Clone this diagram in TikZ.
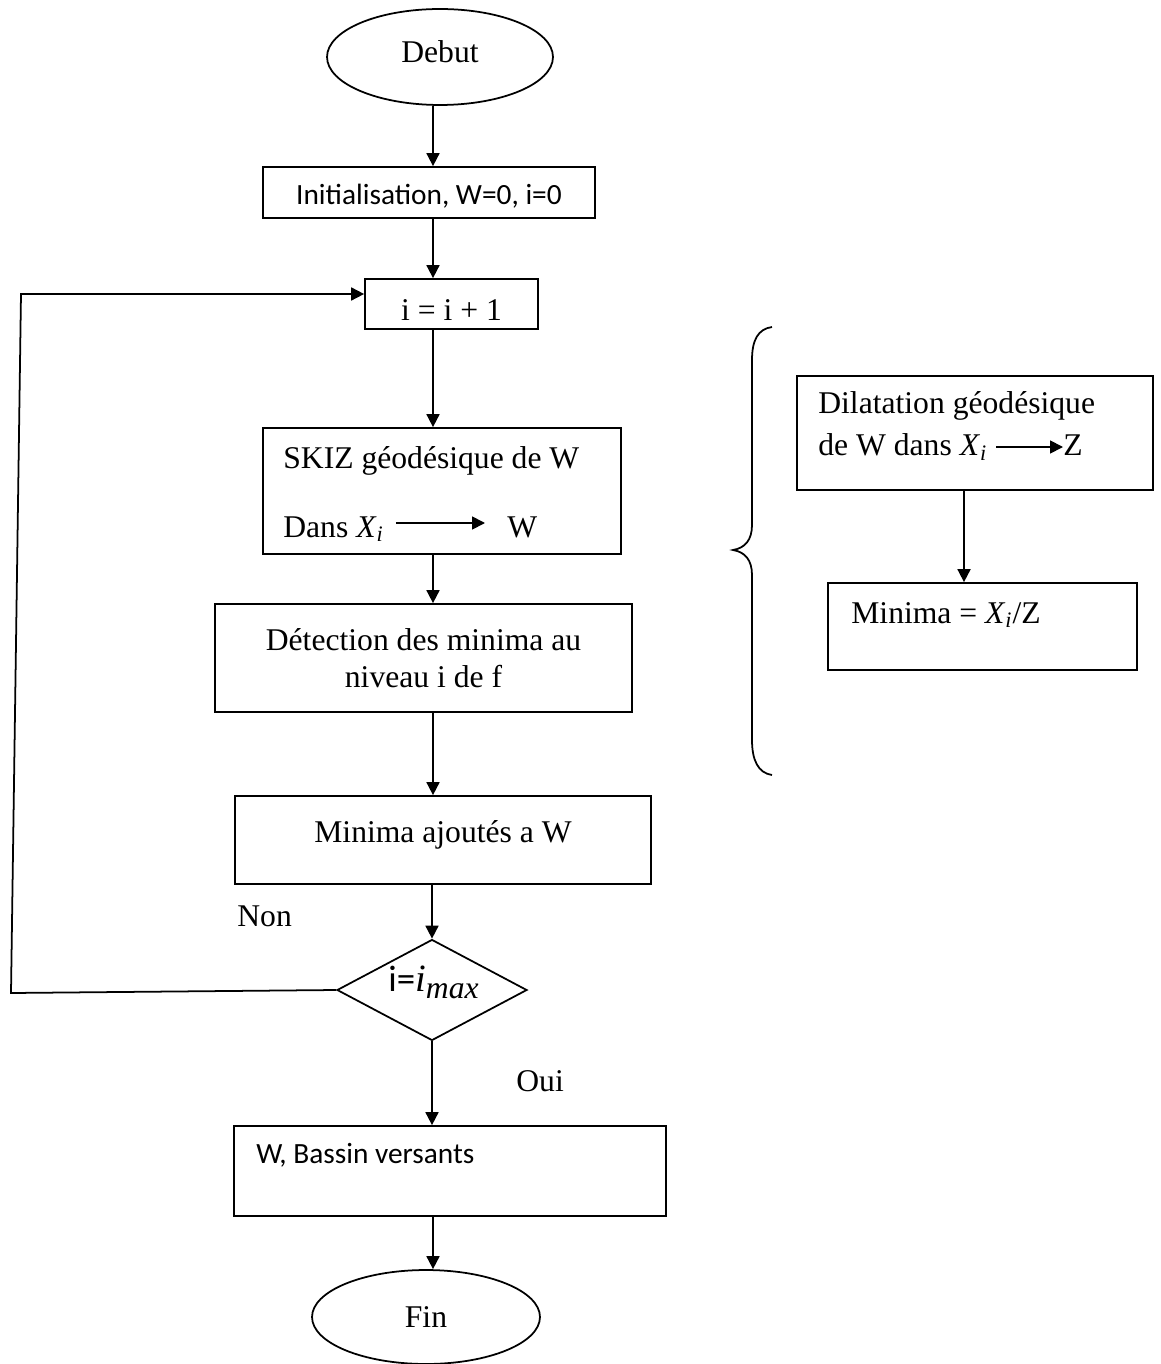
\documentclass[tikz,border=0pt]{standalone}
\usepackage{fontspec}
\setmainfont{Liberation Serif}
\newfontfamily\calfont{Carlito}
\usetikzlibrary{arrows.meta,shapes.geometric}

\newcommand{\xsubi}{\textit{X}\textsubscript{\textit{i}}}

\tikzset{
  box/.style={draw, line width=1pt, rectangle, inner sep=0pt,
              font=\fontsize{18}{21}\selectfont},
  term/.style={draw, line width=1pt, ellipse, inner sep=0pt,
               font=\fontsize{18}{21}\selectfont},
  test/.style={draw, line width=1pt, diamond, inner sep=0pt},
  txt/.style={inner sep=0pt, font=\fontsize{18}{21}\selectfont},
  sanstxt/.style={inner sep=0pt, font=\fontsize{16.7}{20}\selectfont\calfont},
  flow/.style={line width=1pt, -{Triangle[length=0.26cm,width=0.26cm]}},
}

\begin{document}
\begin{tikzpicture}[x=0.02cm, y=-0.02cm]
  \useasboundingbox (0,0) rectangle (1160,1364);

  % main column
  \node[term, minimum width=4.52cm, minimum height=1.92cm, text depth=5.7pt] (debut) at (440,57) {Debut};
  \node[box, minimum width=6.64cm, minimum height=1.02cm, text height=16pt, font=\fontsize{16.7}{20}\selectfont\calfont] (init) at (429,192.5) {Initialisation, W=0, i=0};
  \node[box, minimum width=3.46cm, minimum height=1cm, text height=19pt] (inc) at (451.5,304) {i = i + 1};
  \node[box, minimum width=7.16cm, minimum height=2.52cm] (skiz) at (442,491) {};
  \node[box, minimum width=8.34cm, minimum height=2.16cm, align=center] (detect) at (423.5,658) {Détection des minima au\\niveau i de f};
  \node[box, minimum width=8.32cm, minimum height=1.76cm, text depth=9.5pt] (ajout) at (443,840) {Minima ajoutés a W};
  \node[test, minimum width=3.8cm, minimum height=2.02cm] (cond) at (432,990) {};
  \node[box, minimum width=8.64cm, minimum height=1.8cm] (bassin) at (450,1171) {};
  \node[term, minimum width=4.56cm, minimum height=1.88cm] (fin) at (426,1317) {Fin};

  % texts inside boxes
  \node[txt, anchor=base west] (skizA) at (283,468) {SKIZ géodésique de W};
  \node[txt, anchor=base west] (dans) at (283,537) {Dans \xsubi};
  \node[txt, anchor=base west] (skizW) at (507,537) {W};
  \node[sanstxt, anchor=base west, font=\fontsize{21}{21}\selectfont\calfont] (imax) at (388,991) {i={\rmfamily\itshape\fontsize{22}{22}\selectfont i\raisebox{-4pt}{\fontsize{18}{18}\selectfont max}}};
  \node[sanstxt, anchor=base west] (bassinT) at (256,1163) {W, Bassin versants};
  \node[txt, anchor=base west] (non) at (237,926) {Non};
  \node[txt, anchor=base west] (oui) at (516,1091) {Oui};

  % side column
  \node[box, minimum width=7.12cm, minimum height=2.28cm] (dil) at (975,433) {};
  \node[txt, anchor=base west] (dilA) at (818,414) {Dilatation géodésique};
  \node[txt, anchor=base west] (dilB) at (818,456) {de W dans \xsubi};
  \node[txt, anchor=base west] (dilZ) at (1063,456) {Z};
  \node[box, minimum width=6.18cm, minimum height=1.74cm] (minz) at (982.5,626.5) {};
  \node[txt, anchor=base west] (minzT) at (851,623) {Minima = \xsubi/Z};

  \coordinate (trunk) at (433,0);
  \coordinate (side) at (964,0);
  \coordinate (loopB) at (11,993);
  \coordinate (loopT) at (21,294);

  % connectors
  \draw[flow] (debut.south -| trunk) -- (init.north -| trunk);
  \draw[flow] (init.south -| trunk) -- (inc.north -| trunk);
  \draw[flow] (inc.south -| trunk) -- (skiz.north -| trunk);
  \draw[flow] (skiz.south -| trunk) -- (detect.north -| trunk);
  \draw[flow] (detect.south -| trunk) -- (ajout.north -| trunk);
  \draw[flow] (ajout.south -| cond) -- (cond.north);
  \draw[flow] (cond.south) -- (cond.south |- bassin.north);
  \draw[flow] (bassin.south -| trunk) -- (fin.north -| trunk);
  \draw[flow] (cond.west) -- (loopB) -- (loopT) -- (loopT -| inc.west);
  \draw[flow] (dil.south -| side) -- (minz.north -| side);

  % arrows written in the texts
  \draw[flow] ([xshift=0.24cm,yshift=0.28cm]dans.base east) -- ([xshift=-0.44cm,yshift=0.28cm]skizW.base west);
  \draw[flow] ([xshift=0.18cm,yshift=0.18cm]dilB.base east) -- ([yshift=0.18cm]dilZ.base west);

  % brace
  \draw[line width=1pt] (772,327) .. controls (758,329) and (752,340) .. (752,360)
    -- (752,525) .. controls (752,540) and (745,548) .. (733,550)
    .. controls (745,552) and (752,560) .. (752,575)
    -- (752,740) .. controls (752,760) and (758,773) .. (772,775);
\end{tikzpicture}
\end{document}
